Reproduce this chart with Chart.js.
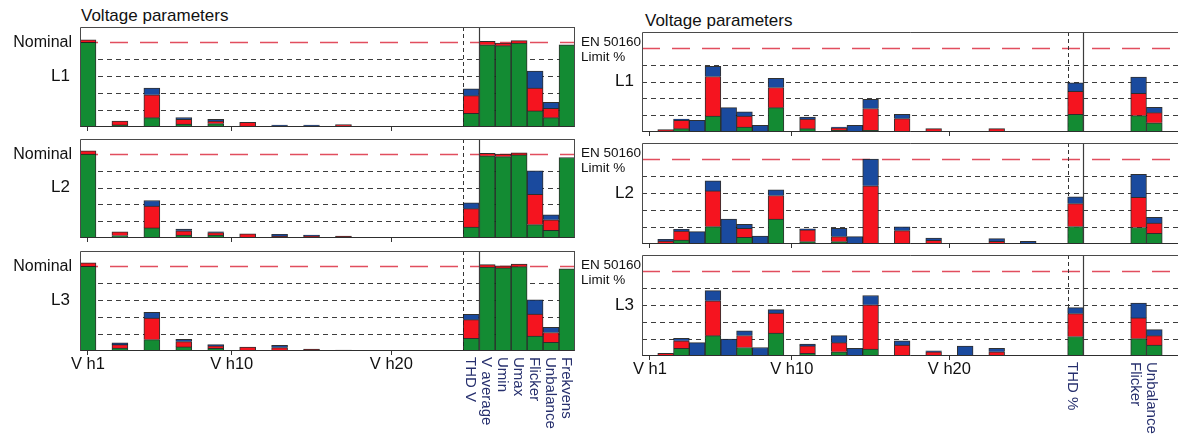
<!DOCTYPE html>
<html>
<head>
<meta charset="utf-8">
<title>Voltage parameters</title>
<script src="https://cdn.jsdelivr.net/npm/chart.js@4.4.1/dist/chart.umd.min.js"></script>
<style>
  html, body { margin: 0; padding: 0; background: #fff; }
  #wrap { position: relative; width: 1178px; height: 434px; overflow: hidden; background: #fff; }
  #wrap canvas { position: absolute; left: 0; top: 0; }
  .title { position: absolute; font: 17px 'Liberation Sans', Arial, Helvetica, sans-serif; color: #111; white-space: nowrap; }
</style>
</head>
<body>
<div id="wrap">
  <div class="title" style="left:81px; top:6px;">Voltage parameters</div>
  <div class="title" style="left:645px; top:11px;">Voltage parameters</div>
  <canvas id="left1" width="1178" height="434"></canvas>
  <canvas id="left2" width="1178" height="434"></canvas>
  <canvas id="left3" width="1178" height="434"></canvas>
  <canvas id="right1" width="1178" height="434"></canvas>
  <canvas id="right2" width="1178" height="434"></canvas>
  <canvas id="right3" width="1178" height="434"></canvas>
</div>
<script>
// ---- categories ----
const leftCategories = [
  'V h1','V h2','V h3','V h4','V h5','V h6','V h7','V h8','V h9','V h10','V h11','V h12',
  'V h13','V h14','V h15','V h16','V h17','V h18','V h19','V h20','V h21','V h22','V h23','V h24',
  'THD V','V average','Umin','Umax','Flicker','Unbalance','Frekvens'
];
const rightCategories = [
  'V h1','V h2','V h3','V h4','V h5','V h6','V h7','V h8','V h9','V h10','V h11','V h12',
  'V h13','V h14','V h15','V h16','V h17','V h18','V h19','V h20','V h21','V h22','V h23','V h24',
  'V h25','V h26','V h27',
  'THD %','V average','Umin','Umax','Flicker','Unbalance','Frekvens'
];

// ---- tick labels ----
const xTickIndices = [0, 9, 19];          // V h1, V h10, V h20
const leftRotatedIndices = [24, 25, 26, 27, 28, 29, 30];
const rightRotatedIndices = [27, 31, 32];
const leftLimitLabel = ['Nominal'];
const rightLimitLabel = ['EN 50160', 'Limit %'];
const phaseNames = ['L1', 'L2', 'L3'];
const gridValues = [20, 40, 60, 80];
const limitValue = 100;
const phaseLabelValue = 60;

// ---- left panels: % of nominal ----
const leftL1Green = [100,0,2.5,0,11,0,3.5,0,4,0,1,0,0,0,0,0,0,0,0,0,0,0,0,0, 16,97,96,99,19,11,97];
const leftL1Red   = [3,0,4.5,0,27,0,5.5,0,3,0,4.5,0,1.4,0,1.4,0,3,0,0,0,0,0,0,0, 21,4,3,3,27,11,0];
const leftL1Blue  = [0,0,0,0,8,0,2,0,2,0,0,0,1,0,1,0,0,0,0,0,0,0,0,0, 8,0,0,0,20,7,0];

const leftL2Green = [100,0,3,0,12,0,3.5,0,3.5,0,0,0,0,0,0,0,0,0,0,0,0,0,0,0, 13,98,97,99,16,9,96];
const leftL2Red   = [4,0,4.5,0,26,0,5,0,3,0,5,0,2.4,0,2.5,0,2.4,0,0,0,0,0,0,0, 22,3,3,2.5,36,12.7,0];
const leftL2Blue  = [0,0,0,0,6.7,0,2,0,1,0,0,0,2,0,1,0,0,0,0,0,0,0,0,0, 7,0,0,0,28,6,0];

const leftL3Green = [100,0,3.5,0,13.5,0,4.8,0,3.2,0,0,0,0,0,0,0,0,0,0,0,0,0,0,0, 15,99,98,99.5,17.5,10.3,97];
const leftL3Red   = [4,0,4,0,25.4,0,6.3,0,2.8,0,4.5,0,4,0,2.4,0,1,0,0,0,0,0,0,0, 22,3,2.5,3,26,11.5,0];
const leftL3Blue  = [0,0,2,0,6.7,0,2.8,0,1.5,0,0,0,2.8,0,0,0,0,0,0,0,0,0,0,0, 6.3,0,0,0,17,6,0];

// ---- right panels: % of EN 50160 limit ----
const rightL1Green = [0,0,4,0,19,0,6,0,29,0,4,0,2,0,2,0,0,0,0,0,0,0,0,0,0,0,0, 21,0,0,0,19.5,11,0];
const rightL1Red   = [0,2.8,10,0,47,0,13,0,24,0,11.5,0,3,0,26,0,16,0,4,0,0,0,4,0,0,0,0, 27.5,0,0,0,26.5,12,0];
const rightL1Blue  = [0,0,1.5,14,12,29,5,8,11,0,2.4,0,1,8,11,0,5,0,0,0,0,0,0,0,0,0,0, 10,0,0,0,19.5,6.5,0];

const rightL2Green = [0,0,4.7,0,20.5,0,8,0,29.5,0,2.8,0,2.8,0,0,0,0,0,0,0,0,0,0,0,0,0,0, 20.6,0,0,0,19.4,12.6,0];
const rightL2Red   = [0,3.5,10.6,0,42,0,10.6,0,27.6,0,13.8,0,5.9,0,68.5,0,15.8,0,4.3,0,0,0,3.2,0,0,0,0, 27,0,0,0,35.6,12,0];
const rightL2Blue  = [0,2,2,14.6,11.8,29.5,4.7,9.4,6.7,0,1.2,0,9.8,8.7,31.5,0,4.3,0,2.8,0,0,0,3.2,0,3.2,0,0, 8,0,0,0,27,6.7,0];

const rightL3Green = [0,0,9,0,24,0,10,0,27,0,3.2,0,5,0,8.3,0,0,0,0,0,0,0,0,0,0,0,0, 23,0,0,0,20.5,12.8,0];
const rightL3Red   = [0,3.2,9,0,41,0,14.2,0,23.7,0,8.7,0,10.7,0,52,0,12.8,0,5,0,0,0,5,0,0,0,0, 27,0,0,0,24.4,11.2,0];
const rightL3Blue  = [0,0,2.8,15.8,12,20,5.5,10,4,0,2,0,8.3,9,11,0,5,0,1,0,11.6,0,3.9,0,0,0,0, 7,0,0,0,17.4,7,0];

// ---- styling ----
const FONT = "'Liberation Sans', Arial, Helvetica, sans-serif";
const GREEN = '#138b33';
const RED = '#f5141f';
const BLUE = '#1a4a9e';
const BAR_EDGE = 'rgba(25,25,25,0.9)';
const LABEL_BLUE = '#27306e';
const AXIS_H = 30;
const W = 1178, H = 434;

Chart.defaults.font.family = FONT;

function hLine(ctx, x0, x1, y) { ctx.beginPath(); ctx.moveTo(x0, y); ctx.lineTo(x1, y); ctx.stroke(); }
function vLine(ctx, x, y0, y1) { ctx.beginPath(); ctx.moveTo(x, y0); ctx.lineTo(x, y1); ctx.stroke(); }

// grid lines, limit line, separators, frame and side labels of one panel
const panelDecor = {
  id: 'panelDecor',
  beforeDatasetsDraw(chart, args, o) {
    const { ctx, chartArea: a, scales: { x, y } } = chart;
    ctx.save();
    ctx.lineWidth = 1.2;
    ctx.strokeStyle = 'rgba(35,35,35,0.88)';
    ctx.setLineDash([5, 4]);
    for (const v of gridValues) hLine(ctx, a.left, a.right, Math.round(y.getPixelForValue(v)) + 0.5);

    ctx.setLineDash([18, 12]);
    ctx.strokeStyle = '#e14e5e';
    ctx.lineWidth = 1.6;
    hLine(ctx, a.left, a.right, Math.round(y.getPixelForValue(limitValue)) + 0.5);

    const half = (x.getPixelForValue(1) - x.getPixelForValue(0)) / 2;
    ctx.setLineDash([4, 3]);
    ctx.strokeStyle = '#333';
    ctx.lineWidth = 1;
    vLine(ctx, Math.round(x.getPixelForValue(o.thdIndex) - half) + 0.5, a.top, a.bottom);
    ctx.restore();
  },
  afterDatasetsDraw(chart, args, o) {
    const { ctx, chartArea: a, scales: { x, y } } = chart;
    const half = (x.getPixelForValue(1) - x.getPixelForValue(0)) / 2;
    ctx.save();
    ctx.setLineDash([]);
    ctx.strokeStyle = '#3c3c3c';
    ctx.lineWidth = 1.2;
    vLine(ctx, Math.round(x.getPixelForValue(o.thdIndex) + half) + 0.5, a.top, a.bottom);

    // frame
    ctx.strokeStyle = '#4a4a4a';
    ctx.lineWidth = 1;
    const l = Math.round(a.left) + 0.5, t = Math.round(a.top) + 0.5;
    const r = Math.round(a.right) - 0.5, b = Math.round(a.bottom) - 0.5;
    hLine(ctx, l, r + 0.5, t);
    vLine(ctx, l, t, b + 0.5);
    ctx.strokeStyle = '#2e2e2e';
    hLine(ctx, l, r + 0.5, b);
    if (o.rightBorder) { ctx.strokeStyle = '#4a4a4a'; vLine(ctx, r, t, b); }

    // side labels
    ctx.fillStyle = '#111';
    ctx.textBaseline = 'middle';
    const ly = y.getPixelForValue(limitValue);
    if (o.side === 'left') {
      ctx.font = '16px ' + FONT;
      ctx.textAlign = 'right';
      ctx.fillText(o.limitLabel[0], a.left - 8, ly);
      ctx.font = '17px ' + FONT;
      ctx.fillText(o.phase, a.left - 10, y.getPixelForValue(phaseLabelValue));
    } else {
      ctx.font = '13.5px ' + FONT;
      ctx.textAlign = 'left';
      ctx.fillText(o.limitLabel[0], a.left - 61, ly - 6);
      ctx.fillText(o.limitLabel[1], a.left - 61, ly + 9);
      ctx.font = '17px ' + FONT;
      ctx.textAlign = 'right';
      ctx.fillText(o.phase, a.left - 8, y.getPixelForValue(phaseLabelValue));
    }

    // vertical names of the parameter columns
    if (o.rotated) {
      ctx.font = '15px ' + FONT;
      ctx.fillStyle = LABEL_BLUE;
      ctx.textAlign = 'left';
      ctx.textBaseline = 'middle';
      for (const i of o.rotated) {
        ctx.save();
        ctx.translate(x.getPixelForValue(i) + o.rotatedShift, a.bottom + o.rotatedGap);
        ctx.rotate(Math.PI / 2);
        ctx.fillText(chart.data.labels[i], 0, 0);
        ctx.restore();
      }
    }
    ctx.restore();
  }
};

function makePanel(id, cfg) {
  const box = cfg.box;
  return new Chart(document.getElementById(id), {
    type: 'bar',
    data: {
      labels: cfg.categories,
      datasets: [
        { label: 'green', data: cfg.green, backgroundColor: GREEN },
        { label: 'red', data: cfg.red, backgroundColor: RED },
        { label: 'blue', data: cfg.blue, backgroundColor: BLUE }
      ]
    },
    options: {
      responsive: false,
      animation: false,
      events: [],
      devicePixelRatio: 1,
      layout: { padding: { left: box.left, right: W - box.right, top: box.top, bottom: H - box.bottom - AXIS_H } },
      datasets: { bar: { barPercentage: 1, categoryPercentage: 1, borderWidth: 1, borderColor: BAR_EDGE } },
      scales: {
        x: {
          stacked: true,
          offset: true,
          afterFit(scale) { scale.height = AXIS_H; },
          border: { display: false },
          grid: {
            offset: false,
            drawOnChartArea: false,
            drawTicks: true,
            tickLength: 4,
            lineWidth: 1,
            color: c => xTickIndices.includes(c.index) ? '#333' : 'rgba(0,0,0,0)'
          },
          ticks: {
            autoSkip: false,
            maxRotation: 0,
            minRotation: 0,
            padding: 0,
            color: '#111',
            font: { family: FONT, size: 16.5 },
            callback: (v, i) => (cfg.showX && xTickIndices.includes(i)) ? cfg.categories[i] : ''
          }
        },
        y: { stacked: true, display: false, min: 0, max: cfg.yMax }
      },
      plugins: {
        legend: { display: false },
        tooltip: { enabled: false },
        panelDecor: {
          side: cfg.side,
          phase: cfg.phase,
          limitLabel: cfg.limitLabel,
          thdIndex: cfg.thdIndex,
          rightBorder: cfg.rightBorder,
          rotated: cfg.rotated,
          rotatedGap: cfg.rotatedGap,
          rotatedShift: cfg.rotatedShift
        }
      }
    },
    plugins: [panelDecor]
  });
}

const leftBoxes = [
  { left: 80, right: 575, top: 27, bottom: 127 },
  { left: 80, right: 575, top: 139, bottom: 238 },
  { left: 80, right: 575, top: 251, bottom: 351 }
];
const rightBoxes = [
  { left: 642, right: 1178, top: 32, bottom: 132 },
  { left: 642, right: 1178, top: 143, bottom: 244 },
  { left: 642, right: 1178, top: 255, bottom: 356 }
];
const leftSeries = [
  [leftL1Green, leftL1Red, leftL1Blue],
  [leftL2Green, leftL2Red, leftL2Blue],
  [leftL3Green, leftL3Red, leftL3Blue]
];
const rightSeries = [
  [rightL1Green, rightL1Red, rightL1Blue],
  [rightL2Green, rightL2Red, rightL2Blue],
  [rightL3Green, rightL3Red, rightL3Blue]
];

for (let p = 0; p < 3; p++) {
  const last = p === 2;
  makePanel('left' + (p + 1), {
    side: 'left',
    categories: leftCategories,
    green: leftSeries[p][0], red: leftSeries[p][1], blue: leftSeries[p][2],
    box: leftBoxes[p],
    yMax: 118,
    phase: phaseNames[p],
    limitLabel: leftLimitLabel,
    thdIndex: 24,
    rightBorder: true,
    showX: last,
    rotated: last ? leftRotatedIndices : null,
    rotatedGap: 6,
    rotatedShift: -1
  });
  makePanel('right' + (p + 1), {
    side: 'right',
    categories: rightCategories,
    green: rightSeries[p][0], red: rightSeries[p][1], blue: rightSeries[p][2],
    box: rightBoxes[p],
    yMax: 119,
    phase: phaseNames[p],
    limitLabel: rightLimitLabel,
    thdIndex: 27,
    rightBorder: false,
    showX: last,
    rotated: last ? rightRotatedIndices : null,
    rotatedGap: 6,
    rotatedShift: -3
  });
}
</script>
</body>
</html>
